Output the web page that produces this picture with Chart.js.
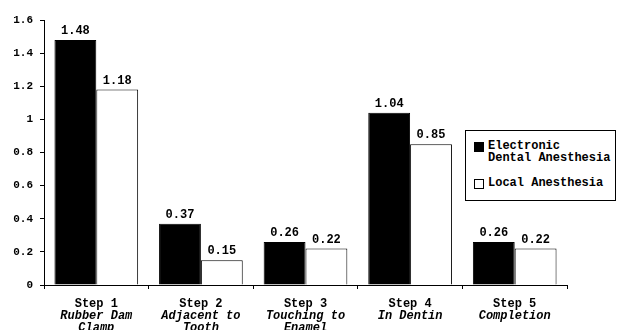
<!DOCTYPE html>
<html>
<head>
<meta charset="utf-8">
<script src="https://cdn.jsdelivr.net/npm/chart.js@4.4.0/dist/chart.umd.min.js"></script>
<style>
  html, body { margin: 0; padding: 0; background: #fff; }
  #wrap { position: relative; width: 617px; height: 330px; overflow: hidden; }
  #legendBox {
    position: absolute; left: 465px; top: 130px; width: 149px; height: 69px;
    border: 1px solid #000; background: #fff;
    font: bold 12px "Liberation Mono", "Courier New", monospace; color: #000;
  }
  .lg-row { position: absolute; left: 8px; display: flex; align-items: flex-start; line-height: 12px; }
  .lg-sw { width: 8px; height: 8px; border: 1px solid #000; margin-right: 4px; margin-top: 2px; flex: none; }
</style>
</head>
<body>
<div id="wrap">
  <canvas id="chart" width="617" height="330"></canvas>
  <div id="legendBox"></div>
</div>
<script>
const STEPS = ["Step 1", "Step 2", "Step 3", "Step 4", "Step 5"];
const STEP_NAMES = [["Rubber Dam", "Clamp"], ["Adjacent to", "Tooth"], ["Touching to", "Enamel"], ["In Dentin"], ["Completion"]];
const SERIES_NAMES = ["Electronic\nDental Anesthesia", "Local Anesthesia"];
const EDA_VALUES = [1.48, 0.37, 0.26, 1.04, 0.26];
const LOCAL_VALUES = [1.18, 0.15, 0.22, 0.85, 0.22];
const Y_TICKS = [0, 0.2, 0.4, 0.6, 0.8, 1, 1.2, 1.4, 1.6];

const FONT = '"Liberation Mono", "Courier New", monospace';

// value labels above each bar
const valueLabels = {
    id: 'valueLabels',
    afterDatasetsDraw(chart) {
        const ctx = chart.ctx;
        ctx.save();
        ctx.font = 'bold 12px ' + FONT;
        ctx.fillStyle = '#000';
        ctx.textAlign = 'center';
        ctx.textBaseline = 'bottom';
        chart.data.datasets.forEach((ds, di) => {
            chart.getDatasetMeta(di).data.forEach((bar, i) => {
                ctx.fillText(ds.data[i].toFixed(2), bar.x, bar.y - 3);
            });
        });
        ctx.restore();
    }
};

// category labels: plain first line, italic following lines
const stepLabels = {
    id: 'stepLabels',
    afterDraw(chart) {
        const ctx = chart.ctx;
        const xs = chart.scales.x;
        const base = chart.scales.y.getPixelForValue(0);
        ctx.save();
        ctx.fillStyle = '#000';
        ctx.textAlign = 'center';
        ctx.textBaseline = 'middle';
        STEPS.forEach((s, i) => {
            const x = xs.getPixelForValue(i);
            ctx.font = 'bold 12px ' + FONT;
            ctx.fillText(s, x, base + 19);
            ctx.font = 'italic bold 12px ' + FONT;
            STEP_NAMES[i].forEach((line, j) => {
                ctx.fillText(line, x, base + 31 + j * 12);
            });
        });
        ctx.restore();
    }
};

new Chart(document.getElementById('chart'), {
    type: 'bar',
    data: {
        labels: STEPS,
        datasets: [
            { label: SERIES_NAMES[0], data: EDA_VALUES, backgroundColor: '#000', borderColor: '#000', borderWidth: 1 },
            { label: SERIES_NAMES[1], data: LOCAL_VALUES, backgroundColor: '#fff', borderColor: '#000', borderWidth: 1 }
        ]
    },
    options: {
        responsive: false,
        animation: false,
        devicePixelRatio: 1,
        categoryPercentage: 0.8,
        barPercentage: 1.0,
        layout: { padding: { top: 20, right: 50, left: 0, bottom: 0 } },
        plugins: { legend: { display: false }, tooltip: { enabled: false } },
        scales: {
            x: {
                grid: { display: true, drawOnChartArea: false, offset: true, color: '#000', tickLength: 4, lineWidth: 1 },
                border: { display: true, color: '#000', width: 1 },
                ticks: { display: false },
                afterFit(scale) { scale.height = 45; }
            },
            y: {
                min: 0, max: 1.6,
                afterBuildTicks(scale) { scale.ticks = Y_TICKS.map(v => ({ value: v })); },
                grid: { display: true, drawOnChartArea: false, color: '#000', tickLength: 4 },
                border: { display: true, color: '#000', width: 1 },
                ticks: {
                    color: '#000', padding: 7,
                    font: { family: FONT, size: 11, weight: 'bold' },
                    callback: v => String(+v.toFixed(1))
                },
                afterFit(scale) { scale.width = 44; }
            }
        }
    },
    plugins: [valueLabels, stepLabels]
});

// legend box
const legendBox = document.getElementById('legendBox');
const legendRows = [
    { name: SERIES_NAMES[0], fill: '#000', top: 9 },
    { name: SERIES_NAMES[1], fill: '#fff', top: 46 }
];
legendRows.forEach(r => {
    const row = document.createElement('div');
    row.className = 'lg-row';
    row.style.top = r.top + 'px';
    const sw = document.createElement('span');
    sw.className = 'lg-sw';
    sw.style.background = r.fill;
    const txt = document.createElement('span');
    txt.innerHTML = r.name.replace('\n', '<br>');
    row.appendChild(sw);
    row.appendChild(txt);
    legendBox.appendChild(row);
});
</script>
</body>
</html>
